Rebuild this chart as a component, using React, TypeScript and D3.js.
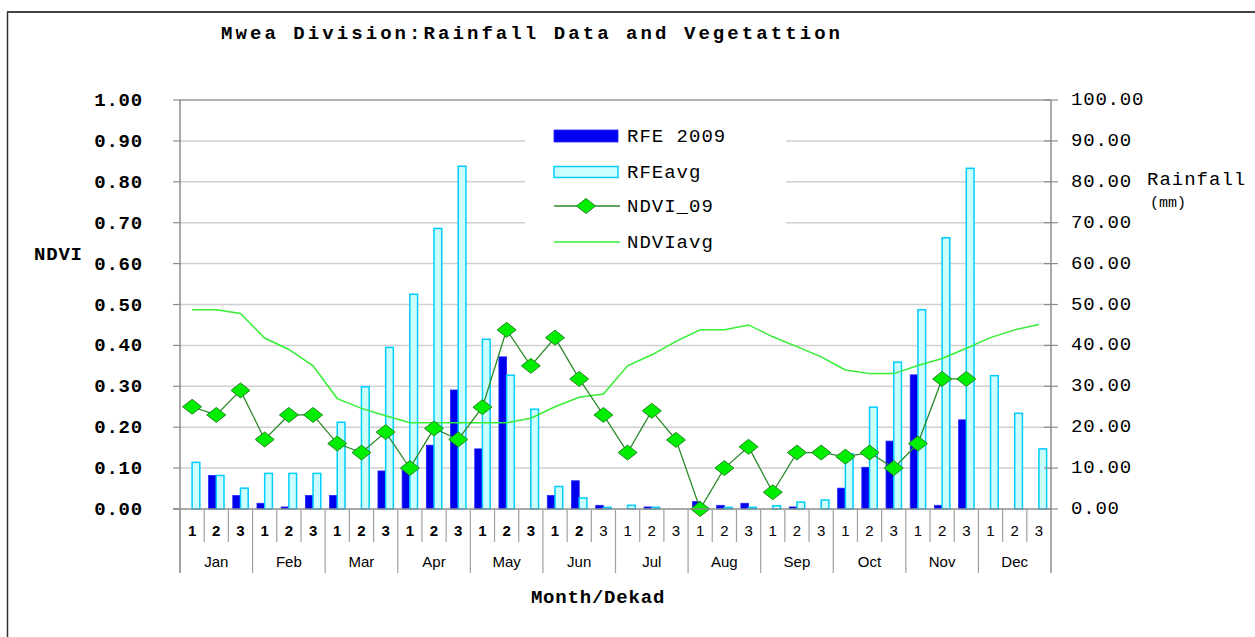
import * as d3 from "d3"
import React from "react"

const months = ["Jan", "Feb", "Mar", "Apr", "May", "Jun", "Jul", "Aug", "Sep", "Oct", "Nov", "Dec"]
const dekads = ["1", "2", "3"]

// rainfall in mm, per dekad
const rfe2009 = [
  0, 8.2, 3.3, 1.4, 0.5, 3.3, 3.3, 0, 9.3, 10, 15.6, 29.1,
  14.7, 37.2, 0, 3.3, 6.9, 0.9, 0, 0.5, 0, 1.8, 0.9, 1.4,
  0, 0.5, 0, 5.1, 10.2, 16.6, 32.8, 0.9, 21.8, 0, 0, 0,
]
const rfeAvg = [
  11.4, 8.2, 5.1, 8.7, 8.7, 8.7, 21.2, 29.9, 39.5, 52.5, 68.6, 83.8,
  41.5, 32.7, 24.4, 5.5, 2.7, 0.4, 0.9, 0.4, 0, 0.3, 0.4, 0.4,
  0.8, 1.7, 2.2, 13.5, 24.9, 35.9, 48.7, 66.3, 83.3, 32.6, 23.4, 14.7,
]
// NDVI
const ndvi09 = [
  0.25, 0.23, 0.29, 0.17, 0.23, 0.23, 0.16, 0.138, 0.188, 0.1, 0.197, 0.17,
  0.249, 0.438, 0.35, 0.419, 0.318, 0.23, 0.138, 0.24, 0.169, 0.0, 0.1, 0.152,
  0.041, 0.138, 0.138, 0.128, 0.138, 0.1, 0.16, 0.318, 0.318,
]
const ndviAvg = [
  0.487, 0.487, 0.478, 0.418, 0.39, 0.35, 0.27, 0.246, 0.228, 0.211, 0.211, 0.211,
  0.211, 0.211, 0.222, 0.25, 0.273, 0.281, 0.35, 0.377, 0.41, 0.438, 0.438, 0.45,
  0.421, 0.397, 0.372, 0.34, 0.331, 0.331, 0.351, 0.368, 0.393, 0.419, 0.438, 0.451,
]
const ndviTicks = [0, 0.1, 0.2, 0.3, 0.4, 0.5, 0.6, 0.7, 0.8, 0.9, 1.0]
const rainTicks = [0, 10, 20, 30, 40, 50, 60, 70, 80, 90, 100]

const mono = "'Liberation Mono', 'Courier New', monospace"
const sans = "'Liberation Sans', Arial, sans-serif"

const W = 1255
const H = 637
const left = 180
const right = 1051
const top = 100
const bottom = 509
const fs = 19
const ls = 0.8

const App = () => {
  const slots = d3.range(36)
  const x = d3.scaleBand<number>().domain(slots).range([left, right]).padding(0)
  const xi = d3.scaleBand<string>().domain(["rfe", "avg"]).range([0, x.bandwidth()]).paddingOuter(0.57)
  const yL = d3.scaleLinear().domain([0, 1]).range([bottom, top])
  const yR = d3.scaleLinear().domain([0, 100]).range([bottom, top])
  const cx = (i: number) => (x(i) as number) + x.bandwidth() / 2

  const ndviLine = d3.line<number>().x((d, i) => cx(i)).y((d) => yL(d))
  const diamond = (px: number, py: number) =>
    `M${px},${py - 7.5}L${px + 9.5},${py}L${px},${py + 7.5}L${px - 9.5},${py}Z`

  const step = x.step()
  const legX = 554
  const legY = [136, 172, 206, 242]

  return (
    <svg width={W} height={H} style={{ position: "absolute", left: 0, top: 0 }}>
      <rect x={0} y={0} width={W} height={H} fill="#fff" />
      {/* outer frame */}
      <line x1={7.5} y1={12} x2={7.5} y2={H} stroke="#333" strokeWidth={1.5} />
      <line x1={7} y1={12} x2={W} y2={12} stroke="#444" strokeWidth={2} />

      <text x={221} y={39} fontFamily={mono} fontWeight="bold" fontSize={fs}
        textLength={619} lengthAdjust="spacing">Mwea Division:Rainfall Data and Vegetattion</text>

      {/* gridlines */}
      {ndviTicks.slice(1, 10).map((t) => (
        <line key={t} x1={left} x2={right} y1={yL(t)} y2={yL(t)} stroke="#cfcfcf" strokeWidth={1.5} />
      ))}
      <line x1={left} x2={right} y1={top} y2={top} stroke="#9a9a9a" strokeWidth={1.5} />

      {/* legend background */}
      <rect x={525} y={108} width={261} height={147} fill="#fff" />

      {/* bars */}
      {rfe2009.map((v, i) => (
        v > 0 ? <rect key={"r" + i} x={(x(i) as number) + (xi("rfe") as number)} y={yR(v)}
          width={xi.bandwidth()} height={bottom - yR(v)} fill="#0000ee" stroke="#2222ff" strokeWidth={0.8} /> : null
      ))}
      {rfeAvg.map((v, i) => (
        v > 0 ? <rect key={"a" + i} x={(x(i) as number) + (xi("avg") as number)} y={yR(v)}
          width={xi.bandwidth()} height={bottom - yR(v)} fill="#ccffff" stroke="#00ccff" strokeWidth={1.5} /> : null
      ))}

      {/* lines */}
      <path d={ndviLine(ndviAvg) as string} fill="none" stroke="#33ee33" strokeWidth={1.5} />
      <path d={ndviLine(ndvi09) as string} fill="none" stroke="#2a8a2a" strokeWidth={1.3} />
      {ndvi09.map((v, i) => (
        <path key={"d" + i} d={diamond(cx(i), yL(v))} fill="#00ee00" stroke="#228822" strokeWidth={1} />
      ))}

      {/* axes */}
      <line x1={left} x2={left} y1={top} y2={573} stroke="#8c8c8c" strokeWidth={1.5} />
      <line x1={right} x2={right} y1={top} y2={573} stroke="#8c8c8c" strokeWidth={1.5} />
      <line x1={173} x2={right} y1={bottom} y2={bottom} stroke="#8c8c8c" strokeWidth={1.5} />
      {ndviTicks.map((t) => (
        <g key={"l" + t}>
          <line x1={173} x2={left} y1={yL(t)} y2={yL(t)} stroke="#8c8c8c" strokeWidth={1.2} />
          <text x={143} y={yL(t) + 6} textAnchor="end" fontFamily={mono} fontWeight="bold" fontSize={fs}
            letterSpacing={ls}>{d3.format(".2f")(t)}</text>
        </g>
      ))}
      {rainTicks.map((t) => (
        <g key={"r" + t}>
          <line x1={right - 7} x2={right + 7} y1={yR(t)} y2={yR(t)} stroke="#8c8c8c" strokeWidth={1.2} />
          <text x={1071} y={yR(t) + 5} fontFamily={mono} fontSize={fs}
            letterSpacing={ls}>{d3.format(".2f")(t)}</text>
        </g>
      ))}
      <text x={34} y={260} fontFamily={mono} fontWeight="bold" fontSize={fs} letterSpacing={ls}>NDVI</text>
      <text x={1147} y={185} fontFamily={mono} fontSize={fs} letterSpacing={1}>Rainfall</text>
      <text x={1150} y={207} fontFamily={mono} fontSize={15}>(mm)</text>

      {/* x axis: dekads and months */}
      {slots.map((i) => (
        <g key={"s" + i}>
          {i % 3 !== 0 && (
            <line x1={x(i)} x2={x(i)} y1={bottom} y2={542} stroke="#a0a0a0" strokeWidth={1.2} />
          )}
          <text x={cx(i)} y={536} textAnchor="middle" fontFamily={sans} fontSize={15}
            fontWeight={i < 17 ? "bold" : "normal"}>{dekads[i % 3]}</text>
        </g>
      ))}
      {months.map((m, k) => (
        <g key={m}>
          <line x1={x(k * 3)} x2={x(k * 3)} y1={bottom} y2={573} stroke="#a0a0a0" strokeWidth={1.2} />
          <text x={(x(k * 3) as number) + step * 1.5} y={567} textAnchor="middle" fontFamily={sans} fontSize={15}>{m}</text>
        </g>
      ))}
      <text x={598} y={603} textAnchor="middle" fontFamily={mono} fontWeight="bold" fontSize={fs}
        letterSpacing={ls}>Month/Dekad</text>

      {/* legend */}
      <rect x={legX} y={130} width={64} height={12} fill="#0000ee" stroke="#2222ff" strokeWidth={0.8} />
      <text x={627} y={legY[0] + 6} fontFamily={mono} fontSize={fs} letterSpacing={1}>RFE 2009</text>
      <rect x={legX} y={166.5} width={64} height={11} fill="#ccffff" stroke="#00ccff" strokeWidth={1.5} />
      <text x={627} y={legY[1] + 6} fontFamily={mono} fontSize={fs} letterSpacing={1}>RFEavg</text>
      <line x1={legX} x2={620} y1={legY[2]} y2={legY[2]} stroke="#2a8a2a" strokeWidth={1.3} />
      <path d={diamond(586, legY[2])} fill="#00ee00" stroke="#228822" strokeWidth={1} />
      <text x={627} y={legY[2] + 6} fontFamily={mono} fontSize={fs} letterSpacing={1}>NDVI_09</text>
      <line x1={legX} x2={620} y1={legY[3]} y2={legY[3]} stroke="#33ee33" strokeWidth={1.5} />
      <text x={627} y={legY[3] + 6} fontFamily={mono} fontSize={fs} letterSpacing={1}>NDVIavg</text>
    </svg>
  )
}

export default App
